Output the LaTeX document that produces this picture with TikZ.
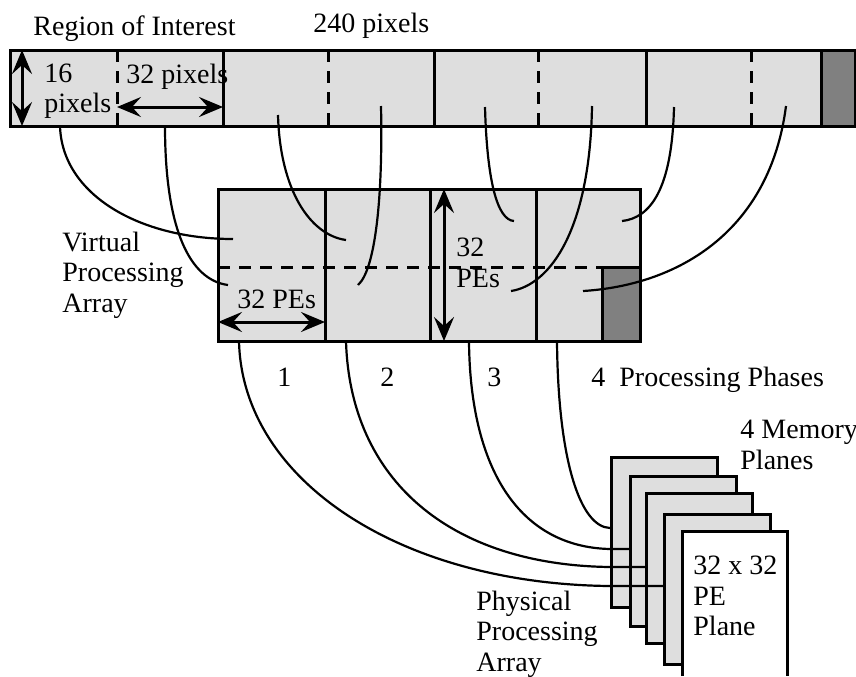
\documentclass[tikz,border=0pt]{standalone}
\usepackage{fontspec}
\setmainfont{Liberation Serif}
\usetikzlibrary{arrows.meta,positioning}

\definecolor{cellgray}{HTML}{DEDEDE}
\definecolor{phasegray}{HTML}{808080}

\begin{document}
\begin{tikzpicture}[
    x=0.5pt, y=-0.5pt,
    cell/.style={draw, fill=cellgray, line width=1.5pt},
    phasebox/.style={draw, fill=phasegray, line width=1.5pt},
    border/.style={line width=1.5pt},
    split/.style={line width=1.5pt, dash pattern=on 6pt off 4.5pt},
    wire/.style={line width=1.1pt},
    span/.style={line width=1.5pt, {Stealth[length=12pt,width=10pt,inset=4.5pt]}-{Stealth[length=12pt,width=10pt,inset=4.5pt]}},
    lbl/.style={font=\fontsize{14}{15.2}\selectfont, inner sep=0pt, align=left},
    plane/.style={cell, minimum width=53pt, minimum height=75pt, anchor=north west, inner sep=0pt}
  ]
    \useasboundingbox (0,0) rectangle (856,676);

    % region of interest, 240 x 16 pixels
    \draw[cell] (10,50) rectangle (855,126);
    \draw[border] (223,50) -- (223,126);
    \draw[border] (434,50) -- (434,126);
    \draw[border] (646,50) -- (646,126);
    \draw[split] (117,50) -- (117,126);
    \draw[split] (328,50) -- (328,126);
    \draw[split] (538,50) -- (538,126);
    \draw[split] (751,50) -- (751,126);
    \draw[phasebox] (821,50) rectangle (855,126);

    \node[lbl, anchor=base west] (roi) at (33,35) {Region of Interest};
    \node[lbl, anchor=base west] (width) at (313,32) {240 pixels};
    \node[lbl, anchor=west] (rows) at (44,91) {16\\pixels};
    \node[lbl, anchor=base west] (cols) at (126,83) {32 pixels};
    \coordinate (roitop) at (22,50);
    \coordinate (roibot) at (22,126);
    \coordinate (colleft) at (117,107);
    \coordinate (colright) at (223,107);
    \draw[span] (roitop) -- (roibot);
    \draw[span] (colleft) -- (colright);

    % virtual processing array
    \draw[cell] (218,189) rectangle (640,341);
    \draw[split] (218,267) -- (640,267);
    \draw[border] (325,189) -- (325,341);
    \draw[border] (430,189) -- (430,341);
    \draw[border] (536,189) -- (536,341);
    \draw[phasebox] (602,267) rectangle (640,341);

    \node[lbl, anchor=west] (virtual) at (62,275) {Virtual\\Processing\\Array};
    \node[lbl, anchor=base west] (pewide) at (237,308) {32 PEs};
    \node[lbl, anchor=west] (pehigh) at (456,263) {32\\PEs};
    \coordinate (vleft) at (218,322);
    \coordinate (vright) at (325,322);
    \coordinate (vtop) at (444,189);
    \coordinate (vbot) at (444,341);
    \draw[span] (vleft) -- (vright);
    \draw[span] (vtop) -- (vbot);

    % strips of the region mapped onto the array
    \coordinate (s1) at (60,126);  \coordinate (v1) at (233,239);
    \coordinate (s2) at (165,126); \coordinate (v2) at (228,285);
    \coordinate (s3) at (278,115); \coordinate (v3) at (346,240);
    \coordinate (s4) at (381,106); \coordinate (v4) at (358,285);
    \coordinate (s5) at (485,107); \coordinate (v5) at (514,221);
    \coordinate (s6) at (592,106); \coordinate (v6) at (511,291);
    \coordinate (s7) at (674,107); \coordinate (v7) at (622,221);
    \coordinate (s8) at (786,106); \coordinate (v8) at (583,291);
    \draw[wire] (s1) .. controls (62,195) and (140,239) .. (v1);
    \draw[wire] (s2) .. controls (165,230) and (190,280) .. (v2);
    \draw[wire] (s3) .. controls (280,190) and (310,235) .. (v3);
    \draw[wire] (s4) .. controls (383,200) and (375,270) .. (v4);
    \draw[wire] (s5) .. controls (487,180) and (497,220) .. (v5);
    \draw[wire] (s6) .. controls (590,230) and (550,285) .. (v6);
    \draw[wire] (s7) .. controls (672,190) and (650,218) .. (v7);
    \draw[wire] (s8) .. controls (770,230) and (680,285) .. (v8);

    \node[lbl, anchor=base west] (phase1) at (277,386) {1};
    \node[lbl, anchor=base west] (phase2) at (380,386) {2};
    \node[lbl, anchor=base west] (phase3) at (487,386) {3};
    \node[lbl, anchor=base west] (phase4) at (591,386) {4\enspace Processing Phases};

    % memory planes
    \node[plane] (plane1) at (610,456) {};
    \node[plane] (plane2) at (629,475) {};
    \node[plane] (plane3) at (645,492) {};
    \node[plane] (plane4) at (663,513) {};
    \draw[border, fill=white] (682,676) |- (787,531) -- (787,676);

    \node[lbl, anchor=west] (memory) at (740,445) {4 Memory\\Planes};
    \node[lbl, anchor=west] (peplane) at (693,596) {32 x 32\\PE\\Plane};
    \node[lbl, anchor=west] (physical) at (476,634) {Physical\\Processing\\Array};

    % phases loaded into the physical array
    \coordinate (p1) at (239,341); \coordinate (m1) at (610,586);
    \coordinate (p2) at (346,341); \coordinate (m2) at (610,567);
    \coordinate (p3) at (469,341); \coordinate (m3) at (610,549);
    \coordinate (p4) at (557,341); \coordinate (m4) at (610,528);
    \draw[wire] (p1) .. controls (242,480) and (400,584) .. (m1) -- (m1 -| plane4.west);
    \draw[wire] (p2) .. controls (350,480) and (450,565) .. (m2) -- (m2 -| plane3.west);
    \draw[wire] (p3) .. controls (470,470) and (520,547) .. (m3) -- (m3 -| plane2.west);
    \draw[wire] (p4) .. controls (558,460) and (580,527) .. (m4);
\end{tikzpicture}
\end{document}
